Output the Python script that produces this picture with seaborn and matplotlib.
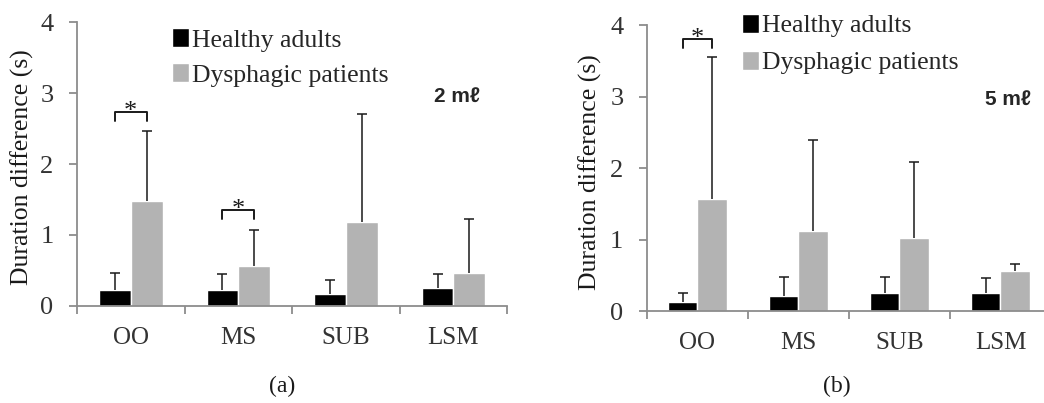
import pandas as pd
import seaborn as sns
import matplotlib.pyplot as plt
from matplotlib.patches import Patch

# data (mean and upper SD, seconds)
muscles = ["OO", "MS", "SUB", "LSM"]
groups = ["Healthy adults", "Dysphagic patients"]

mean_2ml_healthy = [0.23, 0.225, 0.17, 0.25]
sd_2ml_healthy = [0.24, 0.225, 0.20, 0.205]
mean_2ml_dysphagic = [1.48, 0.57, 1.19, 0.46]
sd_2ml_dysphagic = [0.98, 0.50, 1.52, 0.76]

mean_5ml_healthy = [0.13, 0.22, 0.25, 0.25]
sd_5ml_healthy = [0.12, 0.265, 0.23, 0.216]
mean_5ml_dysphagic = [1.57, 1.13, 1.03, 0.57]
sd_5ml_dysphagic = [1.99, 1.26, 1.06, 0.09]

sig_2ml = ["OO", "MS"]
sig_5ml = ["OO"]

BLACK = "#000000"
GRAY = "#b3b3b3"
AXIS_GRAY = "#8c8c8c"


def make_df(h_mean, h_sd, d_mean, d_sd):
    df = pd.DataFrame({
        "muscle": muscles * 2,
        "group": [groups[0]] * 4 + [groups[1]] * 4,
        "mean": h_mean + d_mean,
        "sd": h_sd + d_sd,
    })
    return df


def draw_panel(ax, df, sig, volume_label, vol_xy, bracket_y, legend_anchor, spacing):
    sns.barplot(data=df, x="muscle", y="mean", hue="group", order=muscles,
                hue_order=groups, palette=[BLACK, GRAY], saturation=1,
                width=0.59, legend=False, errorbar=None, ax=ax)

    # upper-only error bars at bar centres
    for container, g in zip(ax.containers, groups):
        sds = df[df["group"] == g]["sd"].tolist()
        xs = [b.get_x() + b.get_width() / 2 for b in container]
        hs = [b.get_height() for b in container]
        eb = ax.errorbar(xs, hs, yerr=[[0] * len(sds), sds], fmt="none",
                         ecolor="#1a1a1a", elinewidth=1.1, capsize=3.8,
                         capthick=1.1, zorder=5)
        eb[1][0].set_visible(False)

    # significance brackets
    for m in sig:
        i = muscles.index(m)
        b0 = ax.containers[0][i]
        b1 = ax.containers[1][i]
        x0 = b0.get_x() + b0.get_width() / 2
        x1 = b1.get_x() + b1.get_width() / 2
        top, leg = bracket_y[m]
        ax.plot([x0, x0, x1, x1], [leg, top, top, leg], color="#1a1a1a",
                lw=1.4, zorder=6)
        ax.annotate("*", xy=((x0 + x1) / 2, top), xytext=(0, -8),
                    textcoords="offset points", ha="center", va="bottom",
                    fontsize=19, color="#1a1a1a")

    ax.set_ylim(0, 4)
    ax.set_xlim(-0.5, 3.5)
    ax.set_yticks([0, 1, 2, 3, 4])
    ax.set_xticks([-0.5, 0.5, 1.5, 2.5, 3.5], minor=True)
    ax.set_xlabel("")
    ax.set_ylabel("Duration difference (s)", fontsize=18.5, color="#1a1a1a")
    sns.despine(ax=ax)
    for s in ["left", "bottom"]:
        ax.spines[s].set_color(AXIS_GRAY)
        ax.spines[s].set_linewidth(1.3)
    ax.tick_params(axis="y", length=6, width=1.3, color=AXIS_GRAY, pad=11,
                   labelsize=19, labelcolor="#333333", left=True)
    ax.tick_params(axis="x", which="major", length=0, pad=15, labelsize=18,
                   labelcolor="#333333")
    ax.tick_params(axis="x", which="minor", length=6, width=1.3,
                   color=AXIS_GRAY, bottom=True)

    handles = [Patch(facecolor=BLACK), Patch(facecolor=GRAY)]
    ax.legend(handles, groups, loc="upper left", bbox_to_anchor=legend_anchor,
              bbox_transform=ax.figure.transFigure, frameon=False, fontsize=18.5,
              handlelength=0.65, handleheight=0.75, handletextpad=0.12,
              borderpad=0, borderaxespad=0, labelspacing=spacing)

    ax.figure.text(vol_xy[0], vol_xy[1], volume_label, ha="center", va="center",
                   fontsize=15, fontweight="bold",
                   family=["Liberation Sans", "DejaVu Sans"])


sns.set_style("white")
plt.rcParams["font.family"] = ["Liberation Serif", "DejaVu Serif"]

fig = plt.figure(figsize=(10.44, 4.03), dpi=100)
ax1 = fig.add_axes([0.0738, 0.2407, 0.412, 0.7047])
ax2 = fig.add_axes([0.6197, 0.2275, 0.387, 0.7097])

df2 = make_df(mean_2ml_healthy, sd_2ml_healthy, mean_2ml_dysphagic, sd_2ml_dysphagic)
df5 = make_df(mean_5ml_healthy, sd_5ml_healthy, mean_5ml_dysphagic, sd_5ml_dysphagic)

draw_panel(ax1, df2, sig_2ml, "2 m\u2113", (0.4377, 0.759),
           {"OO": (2.73, 2.60), "MS": (1.35, 1.22)}, (0.1648, 0.93), 0.45)
draw_panel(ax2, df5, sig_5ml, "5 m\u2113", (0.9655, 0.752),
           {"OO": (3.81, 3.68)}, (0.7107, 0.965), 0.52)

ax1.yaxis.set_label_coords(-0.10, 0.49)
ax2.yaxis.set_label_coords(-0.111, 0.487)

fig.text(0.270, 0.040, "(a)", ha="center", va="center", fontsize=17, color="#1a1a1a")
fig.text(0.8017, 0.040, "(b)", ha="center", va="center", fontsize=17, color="#1a1a1a")

fig.savefig("out.png", dpi=100)
